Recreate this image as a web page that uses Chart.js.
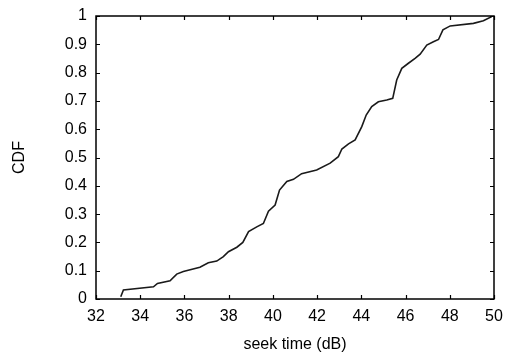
<!DOCTYPE html>
<html><head><meta charset="utf-8">
<script src="https://cdn.jsdelivr.net/npm/chart.js@4/dist/chart.umd.min.js"></script>
<style>html,body{margin:0;padding:0;background:#fff}#w{width:507px;height:354px}</style>
</head><body><div id="w"><canvas id="c"></canvas></div>
<script>
const seekTime = [33.12,33.24,34.6,34.78,35.35,35.65,35.95,36.7,37.08,37.46,37.76,37.99,38.37,38.64,38.9,39.27,39.57,39.8,40.1,40.3,40.63,40.93,41.3,41.98,42.59,42.96,43.12,43.42,43.72,44.02,44.22,44.47,44.77,45.15,45.42,45.6,45.83,46.13,46.43,46.66,46.96,47.26,47.49,47.69,48.02,49.07,49.52,49.9];
const cdf = [0.008,0.032,0.043,0.055,0.064,0.088,0.097,0.112,0.128,0.134,0.15,0.167,0.183,0.2,0.238,0.255,0.267,0.31,0.332,0.385,0.415,0.423,0.443,0.456,0.48,0.503,0.53,0.548,0.562,0.609,0.65,0.68,0.697,0.703,0.709,0.774,0.815,0.833,0.85,0.865,0.897,0.909,0.917,0.951,0.965,0.974,0.983,0.998];
const xTicks = [32,34,36,38,40,42,44,46,48,50];
const yTicks = [0,0.1,0.2,0.3,0.4,0.5,0.6,0.7,0.8,0.9,1];
const xTitle = 'seek time (dB)';
const yTitle = 'CDF';

const font = {family:'"Liberation Sans", Arial, sans-serif', size:16};
const framePlugin = {
  id:'frame',
  afterDraw(chart){
    const {ctx, chartArea:a, scales:{x,y}} = chart;
    ctx.save();
    ctx.strokeStyle='#000'; ctx.lineWidth=1.5;
    ctx.strokeRect(a.left, a.top, a.right-a.left, a.bottom-a.top);
    ctx.lineWidth=1.2;
    ctx.beginPath();
    const L=4;
    xTicks.forEach(v=>{const p=Math.round(x.getPixelForValue(v))+0.5;
      ctx.moveTo(p,a.bottom);ctx.lineTo(p,a.bottom-L);
      ctx.moveTo(p,a.top);ctx.lineTo(p,a.top+L);});
    yTicks.forEach(v=>{const p=Math.round(y.getPixelForValue(v))+0.5;
      ctx.moveTo(a.left,p);ctx.lineTo(a.left+L,p);
      ctx.moveTo(a.right,p);ctx.lineTo(a.right-L,p);});
    ctx.stroke();
    ctx.restore();
  }
};
new Chart(document.getElementById('c'),{
  type:'line',
  data:{datasets:[{data:seekTime.map((v,i)=>({x:v,y:cdf[i]})),borderColor:'#1a1a1a',borderWidth:1.6,pointRadius:0,tension:0,fill:false}]},
  options:{
    responsive:true,maintainAspectRatio:false,animation:false,
    layout:{padding:{left:0,right:13,top:16,bottom:0}},
    plugins:{legend:{display:false},tooltip:{enabled:false}},
    scales:{
      x:{type:'linear',min:32,max:50,
        afterBuildTicks(s){s.ticks=xTicks.map(v=>({value:v}));},
        afterFit(s){s.height=55;s.paddingLeft=0;s.paddingRight=0;},
        grid:{display:false,drawTicks:false},border:{display:false},
        ticks:{color:'#000',font,padding:8,maxRotation:0},
        title:{display:true,text:xTitle,color:'#000',font,padding:{top:7,bottom:0}}},
      y:{type:'linear',min:0,max:1,
        afterBuildTicks(s){s.ticks=yTicks.map(v=>({value:v}));},
        afterFit(s){s.width=96;s.paddingTop=0;s.paddingBottom=0;},
        grid:{display:false,drawTicks:false},border:{display:false},
        ticks:{color:'#000',font,padding:9,callback:v=>String(v)},
        title:{display:true,text:yTitle,color:'#000',font,padding:{top:10,bottom:0}}}
    }
  },
  plugins:[framePlugin]
});
</script></body></html>
